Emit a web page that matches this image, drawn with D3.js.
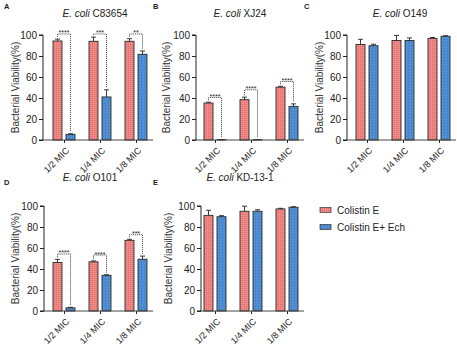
<!DOCTYPE html>
<html><head><meta charset="utf-8">
<script src="https://cdn.jsdelivr.net/npm/d3@7"></script>
<style>
body{margin:0;background:#fff;}
svg{display:block;font-family:"Liberation Sans",Arial,sans-serif;}
</style></head>
<body><svg id="chart" width="457" height="346"></svg>
<script>
// ---------------- DATA ----------------
const categories = ["1/2 MIC", "1/4 MIC", "1/8 MIC"];
const seriesNames = ["Colistin E", "Colistin E+ Ech"];
const yTicks = [0, 20, 40, 60, 80, 100];
const panelLetters = ["A", "B", "C", "D", "E"];
const strainNames = ["C83654", "XJ24", "O149", "O101", "KD-13-1"];

const redA = [94.3, 94.0, 94.0];   const redErrA = [1.8, 4.0, 2.5];
const blueA = [5.4, 41.0, 81.6];   const blueErrA = [0.5, 6.8, 3.2];
const sigA = ["****", "***", "**"]; const sigYA = [101, 101, 101];

const redB = [35.2, 38.4, 50.3];   const redErrB = [0.8, 2.4, 0.8];
const blueB = [0.3, 0.3, 32.0];    const blueErrB = [0, 0, 2.4];
const sigB = ["****", "****", "****"]; const sigYB = [40.5, 47.8, 55.7];

const redC = [91.0, 94.8, 96.8];   const redErrC = [4.9, 4.8, 0.8];
const blueC = [89.8, 94.8, 98.8];  const blueErrC = [1.4, 2.4, 0.5];

const redD = [46.2, 46.8, 67.3];   const redErrD = [3.0, 0.9, 1.0];
const blueD = [3.0, 34.0, 49.3];   const blueErrD = [0.5, 0.5, 3.0];
const sigD = ["****", "****", "***"]; const sigYD = [54.3, 53.3, 72.7];

const redE = [91.1, 95.0, 97.2];   const redErrE = [4.8, 4.8, 0.6];
const blueE = [89.8, 95.0, 98.8];  const blueErrE = [1.0, 1.4, 0.5];

// ---------------- DRAW ----------------
const svg = d3.select("#chart");
const defs = svg.append("defs");
const redPat = defs.append("pattern").attr("id","redPat").attr("patternUnits","userSpaceOnUse").attr("width",2).attr("height",2);
redPat.append("rect").attr("width",2).attr("height",2).attr("fill","#f08a88");
redPat.append("rect").attr("width",1).attr("height",1).attr("fill","#e46a6a");
const bluePat = defs.append("pattern").attr("id","bluePat").attr("patternUnits","userSpaceOnUse").attr("width",3).attr("height",3);
bluePat.append("rect").attr("width",3).attr("height",3).attr("fill","#4f8ed2");
bluePat.append("rect").attr("width",1).attr("height",1).attr("fill","#3b76b8");
const fills = ["url(#redPat)", "url(#bluePat)"];

const panels = [
  {red:redA, redErr:redErrA, blue:blueA, blueErr:blueErrA, sig:sigA, sigY:sigYA, ax:43, cx0:64, y0:140, y100:35, tx:95, ty:17, lx:4, ly:9, ylx:15},
  {red:redB, redErr:redErrB, blue:blueB, blueErr:blueErrB, sig:sigB, sigY:sigYB, ax:196, cx0:215, y0:140, y100:35, tx:240, ty:17, lx:153, ly:9, ylx:166},
  {red:redC, redErr:redErrC, blue:blueC, blueErr:blueErrC, sig:null, sigY:null, ax:347, cx0:367, y0:140, y100:35, tx:400, ty:17, lx:304, ly:9, ylx:319},
  {red:redD, redErr:redErrD, blue:blueD, blueErr:blueErrD, sig:sigD, sigY:sigYD, ax:44, cx0:64, y0:311, y100:206, tx:90, ty:181, lx:4, ly:185, ylx:15},
  {red:redE, redErr:redErrE, blue:blueE, blueErr:blueErrE, sig:null, sigY:null, ax:201, cx0:215, y0:311, y100:206, tx:240, ty:181, lx:153, ly:185, ylx:168}
];

const barW = 9, off = 2;

panels.forEach((p, i) => {
  const g = svg.append("g");
  const x = d3.scalePoint().domain(categories).range([p.cx0, p.cx0 + 72]);
  const y = d3.scaleLinear().domain([0, 100]).range([p.y0, p.y100]);

  // panel letter
  g.append("text").attr("x", p.lx).attr("y", p.ly).attr("font-size", 7.5).attr("font-weight","bold").attr("fill","#222").text(panelLetters[i]);
  // title
  const t = g.append("text").attr("x", p.tx).attr("y", p.ty).attr("text-anchor","middle").attr("font-size", 10).attr("fill","#222");
  t.append("tspan").attr("font-style","italic").text("E. coli");
  t.append("tspan").text(" " + strainNames[i]);
  // y label
  g.append("text").attr("transform", `translate(${p.ylx},${(p.y0 + p.y100)/2}) rotate(-90)`)
    .attr("text-anchor","middle").attr("font-size", 10).attr("fill","#333").attr("dy","0.35em")
    .text("Bacterial Viability(%)");

  // bars
  const series = [
    {vals:p.red, errs:p.redErr, dx:-off - barW},
    {vals:p.blue, errs:p.blueErr, dx:off}
  ];
  series.forEach((s, si) => {
    const sg = g.append("g");
    sg.selectAll("rect").data(categories).join("rect")
      .attr("x", c => x(c) + s.dx)
      .attr("y", (c, k) => y(s.vals[k]))
      .attr("width", barW)
      .attr("height", (c, k) => y(0) - y(s.vals[k]))
      .attr("fill", fills[si]).attr("stroke", "#2a2a2a").attr("stroke-width", 0.9);
    sg.selectAll("line.err").data(categories).join("line").attr("class","err")
      .attr("x1", c => x(c) + s.dx + barW/2).attr("x2", c => x(c) + s.dx + barW/2)
      .attr("y1", (c, k) => y(s.vals[k])).attr("y2", (c, k) => y(s.vals[k] + s.errs[k]))
      .attr("stroke","#222").attr("stroke-width",0.9);
    sg.selectAll("line.cap").data(categories).join("line").attr("class","cap")
      .attr("x1", c => x(c) + s.dx + barW/2 - 2.5).attr("x2", c => x(c) + s.dx + barW/2 + 2.5)
      .attr("y1", (c, k) => y(s.vals[k] + s.errs[k])).attr("y2", (c, k) => y(s.vals[k] + s.errs[k]))
      .attr("stroke","#222").attr("stroke-width",0.9);
  });

  // significance brackets
  if (p.sig) {
    categories.forEach((c, k) => {
      const xl = x(c) - off - barW/2, xr = x(c) + off + barW/2;
      const yt = y(p.sigY[k]);
      const yl = y(p.red[k] + p.redErr[k]) - 2;
      const yr = y(p.blue[k] + p.blueErr[k]) - 2;
      g.append("path").attr("d", `M${xl},${yl}V${yt}H${xr}V${yr}`)
        .attr("fill","none").attr("stroke","#333").attr("stroke-width",0.8).attr("stroke-dasharray","1.2,0.8");
      g.append("text").attr("x", x(c)).attr("y", yt + 1.5).attr("text-anchor","middle")
        .attr("font-size", 7).attr("fill","#222").text(p.sig[k]);
    });
  }

  // y axis
  const ya = g.append("g").attr("transform", `translate(${p.ax},0)`)
    .call(d3.axisLeft(y).tickValues(yTicks).tickSize(4).tickPadding(2));
  ya.selectAll("text").attr("font-size", 10).attr("fill","#222").attr("font-family","Liberation Sans, Arial, sans-serif");
  ya.selectAll("line").attr("stroke","#222");
  ya.select(".domain").attr("stroke","#222").attr("d", `M-4,${y(100)}H0V${y(0)}H-4`);

  // x axis
  const xa = g.append("g").attr("transform", `translate(0,${p.y0})`)
    .call(d3.axisBottom(x).tickSize(3).tickPadding(2));
  xa.select(".domain").attr("d", `M${p.ax},0H${p.cx0 + 89}`).attr("stroke","#444");
  xa.selectAll("line").attr("stroke","#222");
  xa.selectAll(".tick text")
    .attr("x", 0).attr("y", 0).attr("dy", "0.35em")
    .attr("font-size", 9).attr("fill","#222").attr("font-family","Liberation Sans, Arial, sans-serif")
    .style("text-anchor","end")
    .attr("transform","translate(3,9) rotate(-45)");
});

// legend
const lg = svg.append("g");
seriesNames.forEach((n, i) => {
  const yy = 210 + i * 17;
  lg.append("rect").attr("x", 320).attr("y", yy - 2.5).attr("width", 11).attr("height", 5)
    .attr("fill", fills[i]).attr("stroke","#333").attr("stroke-width",0.7);
  lg.append("text").attr("x", 337).attr("y", yy).attr("dy","0.35em").attr("font-size", 10).attr("fill","#222").text(n);
});
</script></body></html>
